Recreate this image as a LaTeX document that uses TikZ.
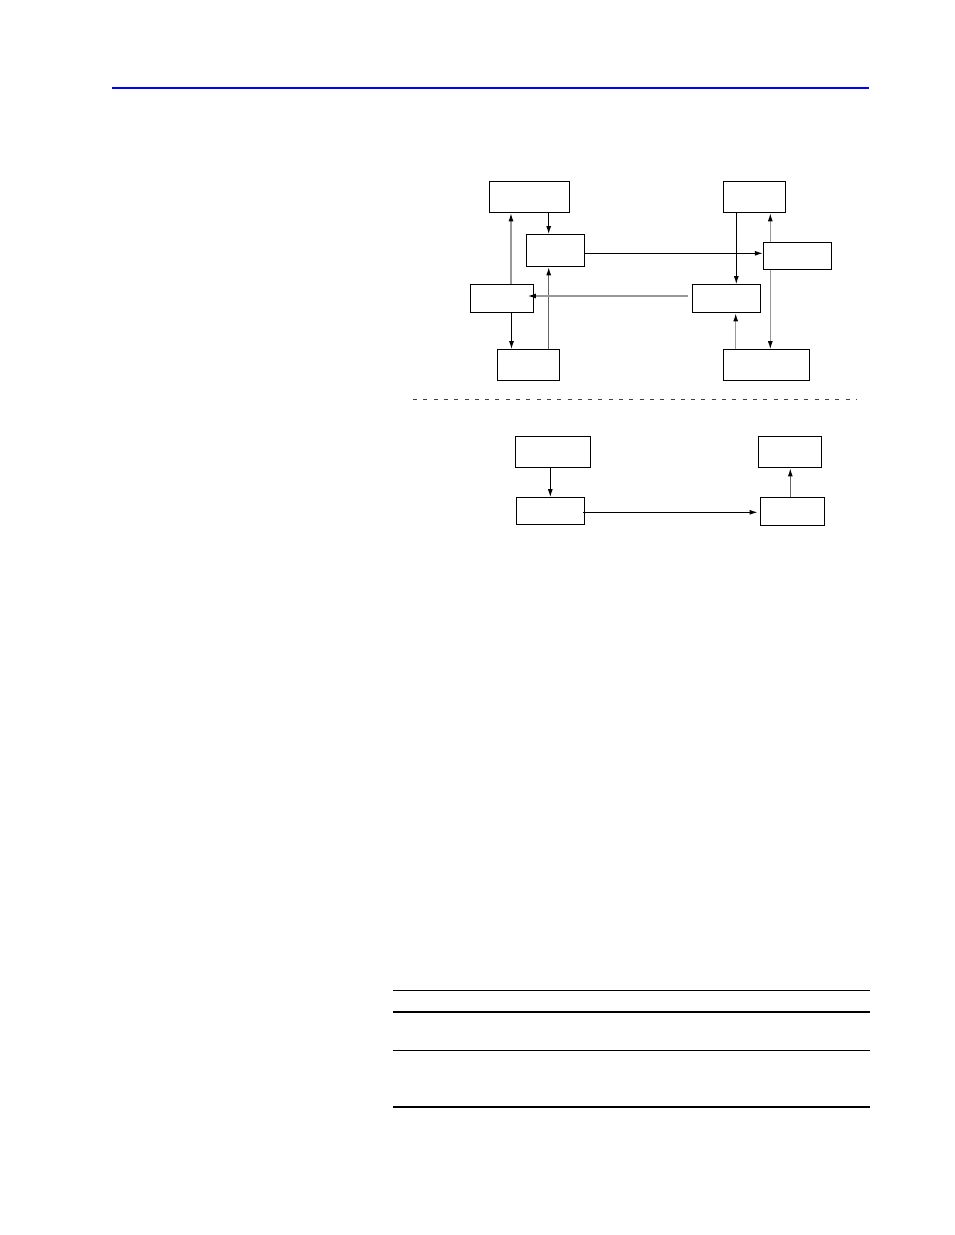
\documentclass[tikz,border=0pt]{standalone}
\usetikzlibrary{arrows.meta}
\definecolor{lightline}{gray}{0.6}
\definecolor{darkline}{gray}{0.4}
\tikzset{
  blk/.style 2 args={draw, line width=1.3pt, inner sep=0pt,
    minimum width=#1pt, minimum height=#2pt},
  flow/.style={line width=1.1pt, -{Latex[length=8pt,width=5pt,black]}},
}
\begin{document}
\begin{tikzpicture}[x=1pt,y=-1pt]
      \useasboundingbox (0,0) rectangle (954,1235);
      \draw[blue, line width=2pt] (112,88) -- (869,88);
      \draw
        (529.8,197.2) node[blk={80}{31}] (A){}
        (555.8,250.7) node[blk={58}{32}] (B){}
        (502.3,298.8) node[blk={63}{28}] (C){}
        (528.7,365.3) node[blk={62}{31}] (D){}
        (754.8,197.2) node[blk={62}{31}] (E){}
        (797.5,256.3) node[blk={68}{27}] (F){}
        (726.8,298.8) node[blk={68}{28}] (G){}
        (766.8,365.3) node[blk={86}{31}] (H){}
        (553.3,452.3) node[blk={75}{31}] (I){}
        (550.8,511.3) node[blk={68}{27}] (J){}
        (790.3,452.3) node[blk={63}{31}] (K){}
        (792.8,511.8) node[blk={64}{28}] (L){};
      \draw[black!75, line width=1pt, dash pattern=on 4pt off 6.3pt] (413,399.3) -- (857,399.3);
      \begin{scope}[flow]
        \draw ([xshift=18.9pt]A.south) to ([xshift=-7.1pt]B.north);
        \draw[lightline] ([xshift=8.7pt]C.north) to ([xshift=-18.8pt]A.south);
        \draw ([xshift=9.2pt]C.south) to ([xshift=-17.2pt]D.north);
        \draw[darkline] ([xshift=20pt]D.north) to ([xshift=-7.1pt]B.south);
        \draw ([yshift=-2.6pt]B.east) to ([yshift=3pt]F.west);
        \draw[lightline] ([xshift=-4pt,yshift=2.8pt]G.west) to ([xshift=-6.6pt,yshift=2.8pt]C.east);
        \draw ([xshift=-18.5pt]E.south) to ([xshift=9.5pt]G.north);
        \draw[lightline] ([xshift=-27.2pt]F.north) to ([xshift=15.5pt]E.south);
        \draw[lightline] ([xshift=-27.2pt]F.south) to ([xshift=3.5pt]H.north);
        \draw[lightline] ([xshift=-31.1pt]H.north) to ([xshift=8.9pt]G.south);
        \draw ([xshift=-3pt]I.south) to ([xshift=-0.5pt]J.north);
        \draw ([xshift=-2.3pt,yshift=-1pt]J.east) to ([xshift=-2.6pt,yshift=-0.5pt]L.west);
        \draw[darkline] ([xshift=-2.5pt]L.north) to (K.south);
      \end{scope}
      \draw[line width=1pt] (393.3,990.3) -- (870,990.3);
      \draw[line width=2pt] (393.3,1012) -- (870,1012);
      \draw[line width=1pt] (393.3,1050.3) -- (870,1050.3);
      \draw[line width=2pt] (393.3,1106.7) -- (870,1106.7);
    \end{tikzpicture}
\end{document}
